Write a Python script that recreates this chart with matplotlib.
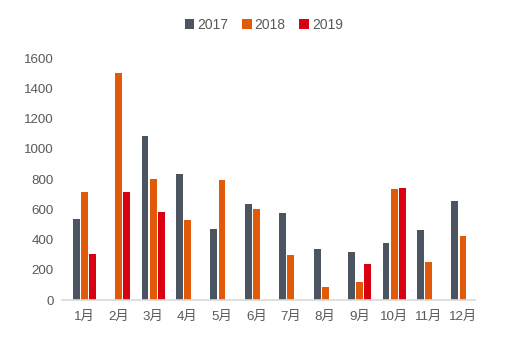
import matplotlib
matplotlib.use('Agg')
import matplotlib.pyplot as plt
import numpy as np

plt.rcParams['font.family'] = ['Liberation Sans', 'Noto Sans CJK SC']

months = ['1月', '2月', '3月', '4月', '5月', '6月', '7月', '8月', '9月', '10月', '11月', '12月']
v2017 = [536, 0, 1083, 834, 470, 633, 576, 340, 318, 377, 461, 653]
v2018 = [715, 1504, 801, 527, 794, 600, 296, 84, 119, 734, 249, 421]
v2019 = [304, 713, 580, 0, 0, 0, 0, 0, 240, 743, 0, 0]

fig = plt.figure(figsize=(5.07, 3.38), dpi=100)
ax = fig.add_axes([0.122, 0.112, 0.815, 0.716])

x = np.arange(len(months))
w = 0.2
off = 0.235
ax.bar(x - off, v2017, w, color='#4a5561', label='2017')
ax.bar(x, v2018, w, color='#e05a0a', label='2018')
ax.bar(x + off, v2019, w, color='#d9000f', label='2019')

ax.set_xlim(-0.65, 11.35)
ax.set_ylim(0, 1600)
ax.set_yticks(range(0, 1601, 200))
ax.set_xticks(x)
ax.set_xticklabels(months)
ax.tick_params(axis='both', length=0, labelsize=9.6, colors='#595959')
ax.tick_params(axis='x', pad=8)
ax.tick_params(axis='y', pad=6)
for s in ['top', 'right', 'left']:
    ax.spines[s].set_visible(False)
ax.spines['bottom'].set_color('#d9d9d9')
ax.spines['bottom'].set_linewidth(1.2)

fig.legend(loc='upper center', bbox_to_anchor=(0.52, 0.985), ncol=3, frameon=False,
           fontsize=10, handlelength=0.7, handleheight=0.7, handletextpad=0.2,
           columnspacing=1.0, labelcolor='#595959')

fig.savefig('out.png', dpi=100)
